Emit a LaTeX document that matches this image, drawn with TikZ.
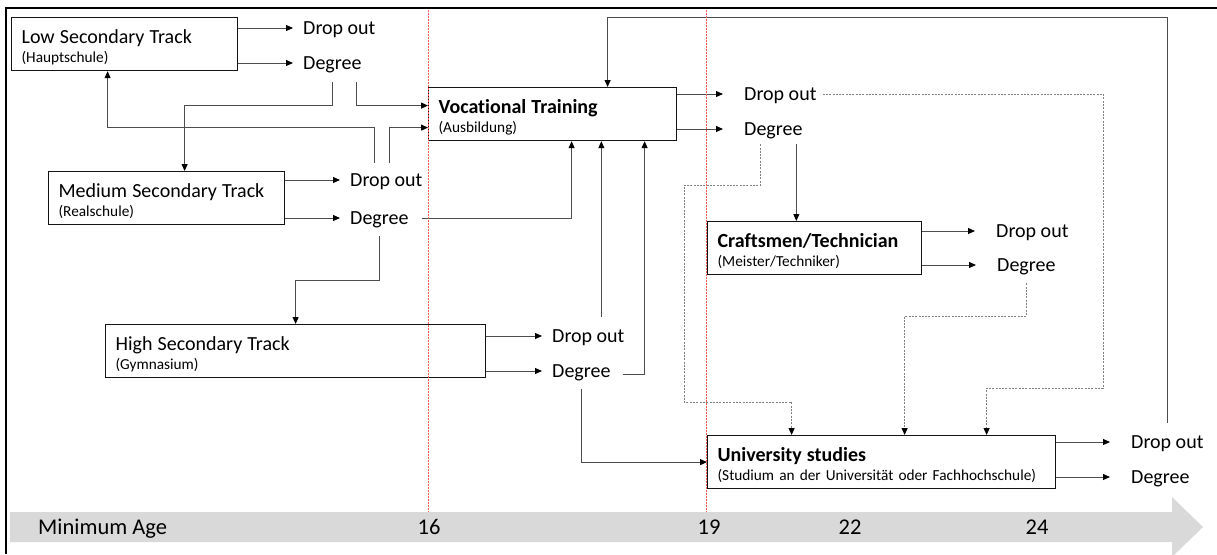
\documentclass[tikz,border=0pt]{standalone}
\usepackage{fontspec}
\setmainfont{Carlito}[Ligatures=NoCommon]
\usetikzlibrary{arrows.meta,calc}
\definecolor{conncol}{HTML}{4D4D4D}
\definecolor{dotcol}{HTML}{808080}
\definecolor{guidecol}{HTML}{FF5A5A}
\definecolor{axiscol}{HTML}{D9D9D9}
\newcommand\boxttl[1]{{\fontsize{20}{19.5}\selectfont\rule{0pt}{20pt}#1}}
\newcommand\boxttlb[1]{{\fontsize{20}{19.5}\selectfont\bfseries\rule{0pt}{20pt}#1}}
\begin{document}
\begin{tikzpicture}[x=1pt,y=-1pt,
  box/.style={draw=black!92, line width=1.2pt, anchor=north west, minimum height=53pt,
    inner xsep=10pt, inner ysep=0pt, align=left, font=\fontsize{15.3}{19.5}\selectfont},
  lbl/.style={anchor=west, inner sep=0pt, text height=13pt, text depth=0pt,
    font=\fontsize{20}{24}\selectfont},
  axlbl/.style={inner sep=0pt, text height=14.5pt, text depth=0pt,
    font=\fontsize{22.5}{26}\selectfont},
  conn/.style={draw=conncol, line width=1pt, -{Triangle[length=7pt,width=6pt,color=black]}},
  dconn/.style={draw=dotcol, line width=0.9pt, dash pattern=on 2pt off 1.3pt,
    -{Triangle[length=7pt,width=6pt,color=black]}},
  guide/.style={draw=guidecol, line width=0.8pt, dash pattern=on 1.5pt off 1.5pt},
  frame/.style={draw=black, line width=2.2pt}
]
\useasboundingbox (0,0) rectangle (1217,554);

% frame
\draw[frame] (1217,8) -- (6,8) -- (6,554);

% age axis
\fill[axiscol] (10,512) -- (1172,512) -- (1172,497) -- (1203,527) -- (1172,557) -- (1172,542) -- (10,542) -- cycle;
\node[axlbl, anchor=west] (agelbl) at (38,527) {Minimum Age};
\node[axlbl] (a16) at (429,527) {16};
\node[axlbl] (a19) at (709,527) {19};
\node[axlbl] (a22) at (850,527) {22};
\node[axlbl] (a24) at (1037,527) {24};

% boxes
\node[box, text width=206pt] (low) at (11,17) {\boxttl{Low Secondary Track}\\(Hauptschule)};
\node[box, text width=216pt] (medium) at (48,171) {\boxttl{Medium Secondary Track}\\(Realschule)};
\node[box, text width=360pt] (high) at (105,324) {\boxttl{High Secondary Track}\\(Gymnasium)};
\node[box, text width=228pt] (voc) at (428,87) {\boxttlb{Vocational Training}\\(Ausbildung)};
\node[box, text width=194pt] (craft) at (707,221) {\boxttlb{Craftsmen/Technician}\\(Meister/Techniker)};
\node[box, text width=328pt] (univ) at (707,435) {\boxttlb{University studies}\\(Studium an der Universität oder Fachhochschule)};

% outcome labels
\node[lbl] (lowdo) at (303,28) {Drop out};
\node[lbl] (lowdeg) at (303,63) {Degree};
\node[lbl] (meddo) at (350,180) {Drop out};
\node[lbl] (meddeg) at (350,218) {Degree};
\node[lbl] (highdo) at (552,336) {Drop out};
\node[lbl] (highdeg) at (552,371) {Degree};
\node[lbl] (vocdo) at (744,94) {Drop out};
\node[lbl] (vocdeg) at (744,129) {Degree};
\node[lbl] (craftdo) at (996,231) {Drop out};
\node[lbl] (craftdeg) at (997,265) {Degree};
\node[lbl] (univdo) at (1131,442) {Drop out};
\node[lbl] (univdeg) at (1131,477) {Degree};

% box -> outcome arrows
\draw[conn] (low.east |- lowdo.west) -- ([xshift=-10pt]lowdo.west);
\draw[conn] (low.east |- lowdeg.west) -- ([xshift=-10pt]lowdeg.west);
\draw[conn] (medium.east |- meddo.west) -- ([xshift=-10pt]meddo.west);
\draw[conn] (medium.east |- meddeg.west) -- ([xshift=-10pt]meddeg.west);
\draw[conn] (high.east |- highdo.west) -- ([xshift=-10pt]highdo.west);
\draw[conn] (high.east |- highdeg.west) -- ([xshift=-10pt]highdeg.west);
\draw[conn] (voc.east |- vocdo.west) -- ([xshift=-21pt]vocdo.west);
\draw[conn] (voc.east |- vocdeg.west) -- ([xshift=-21pt]vocdeg.west);
\draw[conn] (craft.east |- craftdo.west) -- ([xshift=-21pt]craftdo.west);
\draw[conn] (craft.east |- craftdeg.west) -- ([xshift=-21pt]craftdeg.west);
\draw[conn] (univ.east |- univdo.west) -- ([xshift=-21pt]univdo.west);
\draw[conn] (univ.east |- univdeg.west) -- ([xshift=-21pt]univdeg.west);

% transitions
\coordinate (s1) at ([yshift=-12.5pt]lowdeg.south);
\coordinate (s2) at ([xshift=24pt,yshift=-12.5pt]lowdeg.south);
\coordinate (s3) at ([xshift=-12.3pt,yshift=10.5pt]meddo.north);
\coordinate (s4) at ([xshift=2.7pt,yshift=10.5pt]meddo.north);
\coordinate (s5) at ([xshift=13pt]meddeg.east);
\coordinate (s6) at ([yshift=-11.5pt]meddeg.south);
\coordinate (s7) at ([xshift=13pt,yshift=12.5pt]highdo.north);
\coordinate (s8) at ([xshift=12pt,yshift=-3pt]highdeg.east);
\coordinate (s9) at ([yshift=-11.5pt]highdeg.south);
\coordinate (s10) at ([yshift=12.5pt]univdo.north);
\coordinate (s11) at ([xshift=23pt,yshift=-8.5pt]vocdeg.south);
\coordinate (s12) at ([xshift=-13pt,yshift=-8.5pt]vocdeg.south);
\coordinate (s13) at ([xshift=6pt]vocdo.east);
\coordinate (s14) at ([yshift=-11.5pt]craftdeg.south);

\draw[conn] (s1) -- (s1 |- 0,105) -| ([xshift=18pt]medium.north);
\draw[conn] (s2) |- ([yshift=8.5pt]voc.west);
\draw[conn] (s3) -- (s3 |- 0,127) -| ([xshift=-17pt]low.south);
\draw[conn] (s4) |- ([yshift=-13.5pt]voc.west);
\draw[conn] (s5) -| ([xshift=19pt]voc.south);
\draw[conn] (s6) -- (s6 |- 0,280) -| (high.north);
\draw[conn] (s7) -- (s7 |- voc.south);
\draw[conn] (s8) -| ([xshift=92pt]voc.south);
\draw[conn] (s9) |- (univ.west);
\draw[conn] (s10) -- (s10 |- 0,17) -| ([xshift=55pt]voc.north);
\draw[conn] (s11) -- (s11 |- craft.north);
\draw[dconn] (s12) |- (684,185) -- (684,402) -| ([xshift=-90pt]univ.north);
\draw[dconn] (s13) -| (1103,388) -| ([xshift=105pt]univ.north);
\draw[dconn] (s14) -- (s14 |- 0,316) -| ([xshift=23pt]univ.north);

% age guide lines
\draw[guide] (428,10) -- (428,512);
\draw[guide] (706,10) -- (706,512);
\end{tikzpicture}
\end{document}
